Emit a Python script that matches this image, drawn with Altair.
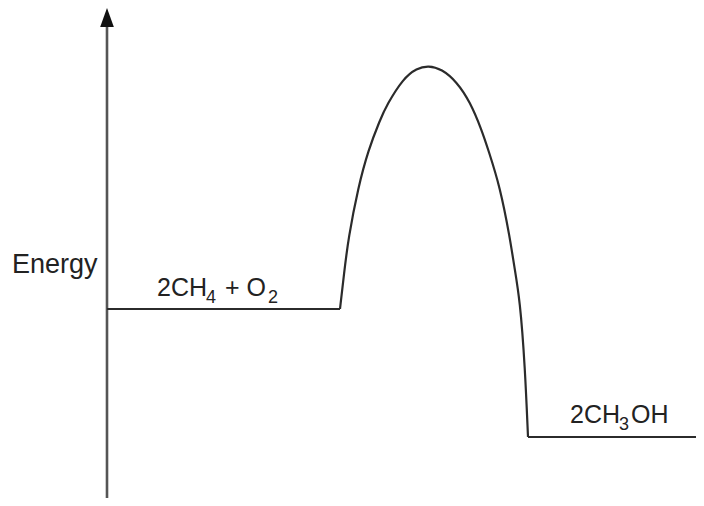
import altair as alt
import pandas as pd

# Values (pixel-like units: x to the right, y downward)
curve_x = [340, 344, 348.3, 358.3, 368.3, 380, 386.7, 403.3, 416.7, 428.3, 441.7,
           456.7, 470, 481.7, 488.3, 500, 510, 514, 520, 525, 528]
curve_y = [309, 274, 238.3, 186.7, 150, 120, 105, 78.3, 68.3, 65.5, 69,
           81.7, 101.7, 130, 150, 186.7, 238.3, 265, 300, 367, 437]

level_x1 = [107, 528]
level_x2 = [340, 720]
level_y = [309, 437]

axis_x = [107]
axis_top = [27]
axis_bottom = [520]
arrow_y = [17.5]

# label pieces (normal text and subscripts)
piece_text = ["Energy", "2CH", "4", "+ O", "2", "2CH", "3", "OH"]
piece_x = [12, 157, 206, 225, 268, 570, 619, 631]
piece_y = [273, 296, 303, 296, 303, 423, 430, 423]
piece_size = [27, 25, 18, 25, 18, 25, 18, 25]

W, H = 688, 490
xs = alt.Scale(domain=[8, 8 + W], nice=False, zero=False)
ys = alt.Scale(domain=[8, 8 + H], reverse=True, nice=False, zero=False)

curve_df = pd.DataFrame({"x": curve_x, "y": curve_y, "o": list(range(len(curve_x)))})
level_df = pd.DataFrame({"x1": level_x1, "x2": level_x2, "y": level_y})
axis_df = pd.DataFrame({"x": axis_x, "y1": axis_top, "y2": axis_bottom, "ya": arrow_y})
label_df = pd.DataFrame({"t": piece_text, "x": piece_x, "y": piece_y, "s": piece_size})

line_color = "#2b2b2b"

curve = alt.Chart(curve_df).mark_line(
    interpolate="basis", color=line_color, strokeWidth=2.2
).encode(
    x=alt.X("x:Q", scale=xs, axis=None),
    y=alt.Y("y:Q", scale=ys, axis=None),
    order="o:Q",
)

levels = alt.Chart(level_df).mark_rule(color=line_color, strokeWidth=2.2).encode(
    x=alt.X("x1:Q", scale=xs, axis=None),
    x2="x2:Q",
    y=alt.Y("y:Q", scale=ys, axis=None),
)

axis_line = alt.Chart(axis_df).mark_rule(color="#555555", strokeWidth=2.6).encode(
    x=alt.X("x:Q", scale=xs, axis=None),
    y=alt.Y("y1:Q", scale=ys, axis=None),
    y2="y2:Q",
)

arrow = alt.Chart(axis_df).mark_point(
    shape="M0,-1L-0.72,1L0.72,1Z", filled=True, color="#111111", opacity=1, size=361
).encode(
    x=alt.X("x:Q", scale=xs, axis=None),
    y=alt.Y("ya:Q", scale=ys, axis=None),
)

labels = alt.Chart(label_df).mark_text(
    align="left", baseline="alphabetic", font="Liberation Sans", color="#222222"
).encode(
    x=alt.X("x:Q", scale=xs, axis=None),
    y=alt.Y("y:Q", scale=ys, axis=None),
    text="t:N",
    size=alt.Size("s:Q", scale=None, legend=None),
)

chart = alt.layer(axis_line, arrow, levels, curve, labels).properties(
    width=W, height=H, padding=0, autosize=alt.AutoSizeParams(type="none")
).configure_view(stroke=None)

chart.save("out.html", embed_options={"renderer": "svg", "actions": False})
